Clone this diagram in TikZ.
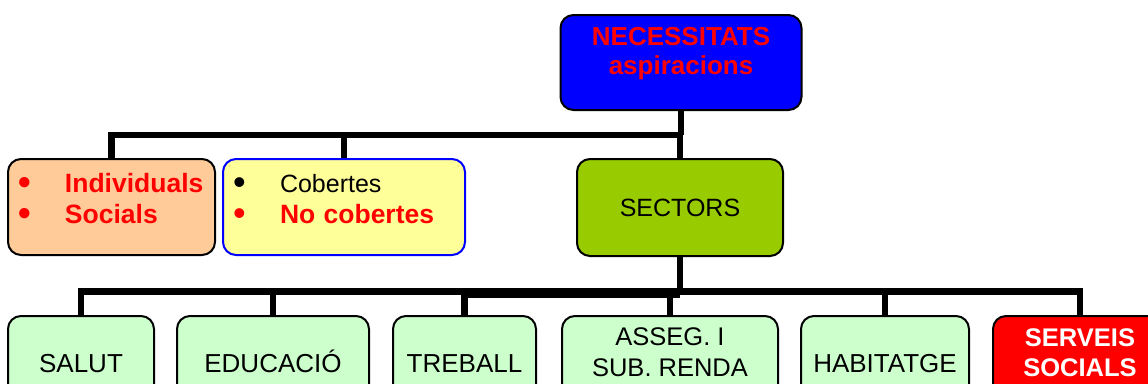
\documentclass[tikz,border=0pt]{standalone}
\usepackage{fontspec}
\usepackage{graphicx}
\setmainfont{Liberation Sans}
\definecolor{topblue}{HTML}{0000FF}
\definecolor{peach}{HTML}{FFCC99}
\definecolor{paleyellow}{HTML}{FFFF99}
\definecolor{sectorgreen}{HTML}{99CC00}
\definecolor{palegreen}{HTML}{CCFFCC}
\definecolor{alertred}{HTML}{FF0000}
% list bullet with a fixed indent for the following word
\newcommand\bul{\makebox[47pt][l]{\raisebox{-2.5pt}[0pt][0pt]{\fontsize{36}{31}\selectfont\textbullet}}}
\tikzset{
  box/.style={draw=black, line width=2pt, rounded corners=13pt, inner sep=0pt,
    font=\fontsize{25}{30}\selectfont},
  leaf/.style={box, fill=palegreen, anchor=north, minimum height=96pt,
    font=\fontsize{26}{30}\selectfont, text height=17pt, text depth=0pt},
  leaftwo/.style={box, anchor=north, minimum height=96pt, align=center,
    font=\fontsize{25.5}{31}\selectfont, text height=48pt, text depth=24pt},
  listbox/.style={box, minimum height=96pt, inner xsep=10pt, align=left,
    text height=18pt, text depth=48pt},
  link/.style={line width=6.5pt, line join=miter}
}
\begin{document}
\begin{tikzpicture}[x=1pt, y=-1pt]
\useasboundingbox (0,0) rectangle (1148,383);
\clip (0,0) rectangle (1148,383);

% root
\node[box, fill=topblue, minimum width=241pt, minimum height=95pt, align=center,
  text=alertred, font=\fontsize{26}{29}\selectfont\bfseries,
  text height=48pt, text depth=25pt] (need) at (681,62.5) {NECESSITATS\\aspiracions};

% second level
\node[listbox, fill=peach, minimum width=207pt, text width=187pt, text=alertred,
  font=\fontsize{26.5}{31}\selectfont\bfseries] (kind) at (111.5,207)
  {\bul Individuals\\\bul Socials};
\node[listbox, draw=topblue, fill=paleyellow, minimum width=242pt, text width=222pt,
  font=\fontsize{25}{31}\selectfont] (cover) at (344,207)
  {\bul Cobertes\\{\color{alertred}\bul\fontsize{26.5}{31}\selectfont\bfseries No cobertes}};
\node[box, fill=sectorgreen, minimum width=206pt, minimum height=97pt,
  text height=17pt, text depth=0pt] (sectors) at (680,207.5) {SECTORS};

% sectors
\node[leaf, minimum width=146pt] (salut) at (81,315) {SALUT};
\node[leaf, minimum width=192pt] (educ) at (273,315) {EDUCACIÓ};
\node[leaf, minimum width=143pt] (treball) at (464.5,315) {TREBALL};
\node[leaftwo, fill=palegreen, minimum width=216pt] (asseg) at (670,315) {ASSEG. I\\SUB. RENDA};
\node[leaf, minimum width=168pt] (habit) at (885,315) {HABITATGE};
\node[leaftwo, fill=alertred, text=white, minimum width=174pt,
  font=\fontsize{25.5}{30}\selectfont\bfseries] (serveis) at (1080,315) {SERVEIS\\SOCIALS};

% connectors, root level
\coordinate (j1) at (681,135);
\draw[link] (need.south) -- (j1);
\draw[link] (j1) -| (kind.north);
\draw[link] (j1) -| (cover.north);
\draw[link] (j1) -| (sectors.north);

% connectors, sector level
\coordinate (j2) at (680,291.5);
\coordinate (j3) at (680,294.5);
\draw[link] (sectors.south) -- (j3);
\draw[link] (j2) -| (salut.north);
\draw[link] (j2) -| (educ.north);
\draw[link] (j3) -| (treball.north);
\draw[link] (j3) -| (asseg.north);
\draw[link] (j2) -| (habit.north);
\draw[link] (j2) -| (serveis.north);
\end{tikzpicture}
\end{document}
